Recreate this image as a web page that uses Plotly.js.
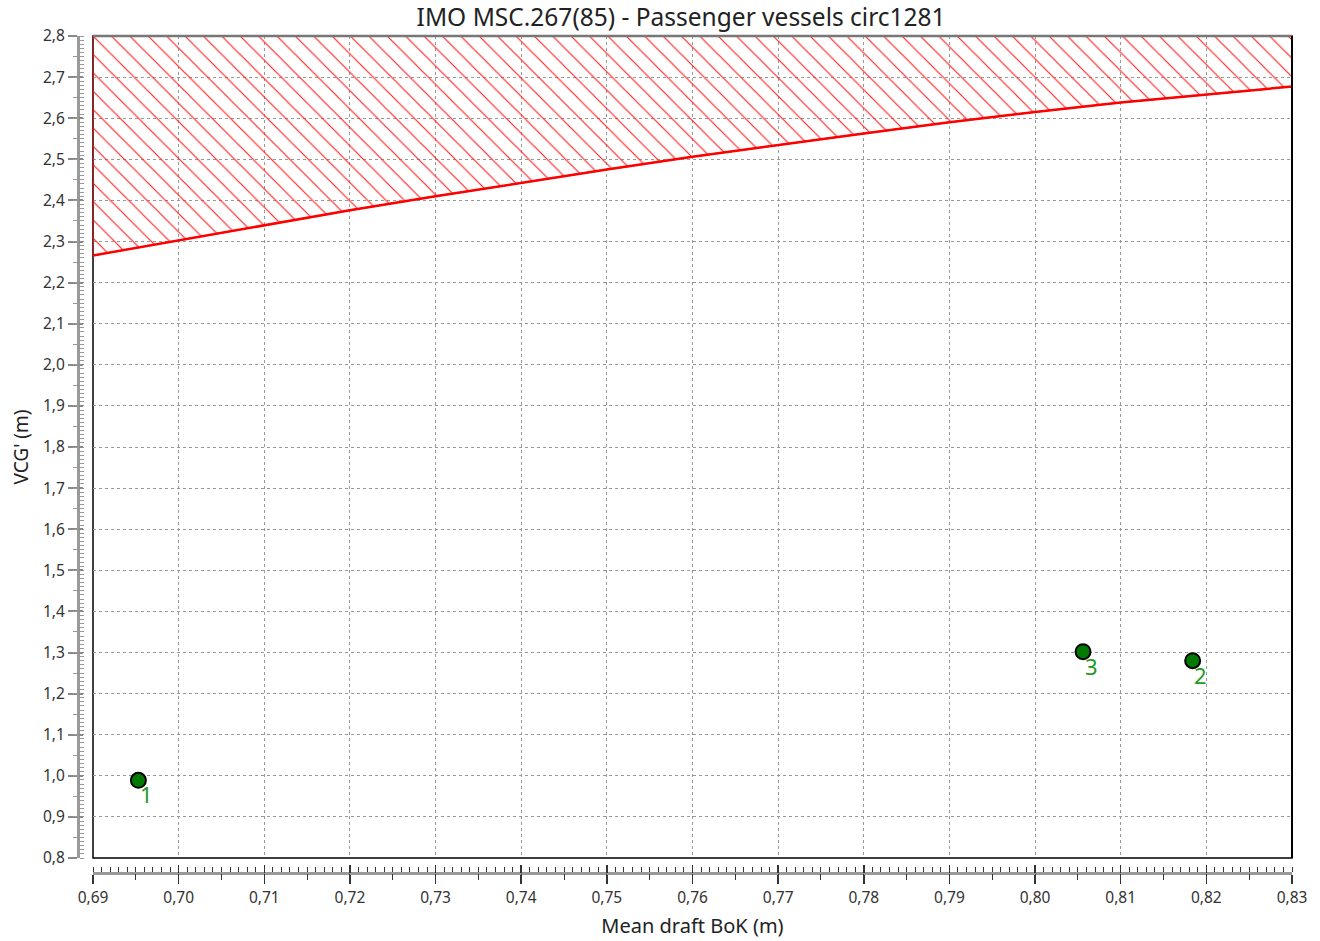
<!DOCTYPE html>
<html>
<head>
<meta charset="utf-8">
<script src="https://cdn.plot.ly/plotly-3.0.1.min.js"></script>
<style>html,body{margin:0;padding:0;background:#fff;}#chart{width:1320px;height:941px;}</style>
</head>
<body>
<div id="chart"></div>
<script>
// Limit curve (VCG' limit vs mean draft)
const limitDraft = [0.69, 0.70, 0.71, 0.72, 0.73, 0.74, 0.75, 0.76, 0.77, 0.78, 0.79, 0.80, 0.81, 0.82, 0.83];
const limitVCG   = [2.266, 2.303, 2.340, 2.376, 2.410, 2.443, 2.475, 2.506, 2.535, 2.563, 2.590, 2.615, 2.638, 2.658, 2.677];
const upperVCG = 2.8;

// Loading conditions
const condLabels = ['1', '2', '3'];
const condDraft  = [0.6953, 0.8184, 0.8056];
const condVCG    = [0.989, 1.280, 1.302];

const xRange = [0.69, 0.83];
const yRange = [0.8, 2.8];

const polyX = limitDraft.concat(limitDraft.slice().reverse()).concat([limitDraft[0]]);
const polyY = limitVCG.concat(limitDraft.map(() => upperVCG)).concat([limitVCG[0]]);

const font = 'Noto Sans, Open Sans, sans-serif';

const traces = [
  {
    x: polyX, y: polyY, type: 'scatter', mode: 'lines',
    fill: 'toself', fillcolor: 'rgba(255,255,255,0)',
    fillpattern: {shape: '\\', fgcolor: '#ff2020', bgcolor: 'rgba(255,255,255,0)', size: 13, solidity: 0.09},
    line: {color: '#ff0000', width: 1.5},
    hoverinfo: 'skip', showlegend: false
  },
  {
    x: limitDraft, y: limitVCG, type: 'scatter', mode: 'lines',
    line: {color: '#ff0000', width: 2.5},
    showlegend: false
  },
  {
    x: condDraft, y: condVCG, type: 'scatter', mode: 'markers',
    marker: {size: 15, color: '#007a00', line: {color: '#000', width: 2}},
    showlegend: false, cliponaxis: false
  },
  {
    // invisible helper so the secondary tick axes are drawn
    x: xRange, y: yRange, xaxis: 'x2', yaxis: 'y2', type: 'scatter', mode: 'markers',
    marker: {opacity: 0}, hoverinfo: 'skip', showlegend: false
  }
];

const annotations = condLabels.map((t, i) => ({
  x: condDraft[i], y: condVCG[i], xref: 'x', yref: 'y', text: t, showarrow: false,
  xshift: 8, yshift: -14, font: {family: font, size: 22, color: '#1f9a1f'}
}));

const xDomain = [93/1320, 1292/1320];
const yDomain = [(941-858)/941, (941-36)/941];
const xPos = (941-873)/941;
const yPos = 78/1320;

const layout = {
  width: 1320, height: 941,
  margin: {l: 0, r: 0, t: 0, b: 0},
  paper_bgcolor: '#fff', plot_bgcolor: '#fff',
  separators: ', ',
  font: {family: font, color: '#333'},
  title: {text: 'IMO MSC.267(85) - Passenger vessels circ1281', x: 0.516, xanchor: 'center', y: 0.981, yanchor: 'middle',
          font: {family: font, size: 24.5, color: '#222'}},
  xaxis: {
    domain: xDomain, range: xRange, anchor: 'free', position: xPos,
    dtick: 0.01, tick0: 0.69, tickformat: '.2f',
    showgrid: true, gridcolor: '#999', griddash: 'dot', gridwidth: 1,
    showline: true, linecolor: '#999', linewidth: 3,
    ticks: 'outside', ticklen: 9, tickwidth: 1.5, tickcolor: '#333',
    minor: {dtick: 0.001, ticks: 'inside', ticklen: 5, tickwidth: 1, tickcolor: '#333', showgrid: false},
    tickfont: {family: font, size: 15.5, color: '#333'},
    zeroline: false,
    title: {text: 'Mean draft BoK (m)', font: {family: font, size: 20, color: '#222'}, standoff: 12}
  },
  xaxis2: {
    domain: xDomain, range: xRange, anchor: 'free', position: xPos, overlaying: 'x',
    dtick: 0.01, tick0: 0.69, showticklabels: false,
    showgrid: false, showline: false, zeroline: false,
    ticks: 'inside', ticklen: 8, tickwidth: 1.5, tickcolor: '#333',
    minor: {dtick: 0.005, ticks: 'outside', ticklen: 6, tickwidth: 1, tickcolor: '#333', showgrid: false}
  },
  yaxis: {
    domain: yDomain, range: yRange, anchor: 'free', position: yPos,
    dtick: 0.1, tick0: 0.8, tickformat: '.1f',
    showgrid: true, gridcolor: '#999', griddash: 'dot', gridwidth: 1,
    showline: true, linecolor: '#999', linewidth: 3,
    ticks: 'outside', ticklen: 9, tickwidth: 2, tickcolor: '#888',
    minor: {dtick: 0.01, ticks: 'inside', ticklen: 4, tickwidth: 1, tickcolor: '#999', showgrid: false},
    tickfont: {family: font, size: 15.5, color: '#333'},
    zeroline: false,
    title: {text: "VCG' (m)", font: {family: font, size: 19, color: '#222'}, standoff: 8}
  },
  yaxis2: {
    domain: yDomain, range: yRange, anchor: 'free', position: yPos, overlaying: 'y',
    dtick: 0.1, tick0: 0.8, showticklabels: false,
    showgrid: false, showline: false, zeroline: false,
    ticks: 'inside', ticklen: 4, tickwidth: 2, tickcolor: '#888',
    minor: {dtick: 0.05, ticks: 'outside', ticklen: 5, tickwidth: 1, tickcolor: '#999', showgrid: false}
  },
  annotations: annotations,
  shapes: [
    {type: 'rect', xref: 'x domain', yref: 'y domain', x0: 0, x1: 1, y0: 0, y1: 1,
     line: {color: '#000', width: 1.5}, layer: 'below'},
    {type: 'line', xref: 'x domain', yref: 'y domain', x0: 0, x1: 1, y0: 1, y1: 1,
     line: {color: '#777', width: 2.5}, layer: 'above'},
    {type: 'line', xref: 'x domain', yref: 'y domain', x0: 1, x1: 1, y0: 0, y1: 1,
     line: {color: '#000', width: 2}, layer: 'above'}
  ]
};

Plotly.newPlot('chart', traces, layout, {displayModeBar: false, staticPlot: true});
</script>
</body>
</html>
